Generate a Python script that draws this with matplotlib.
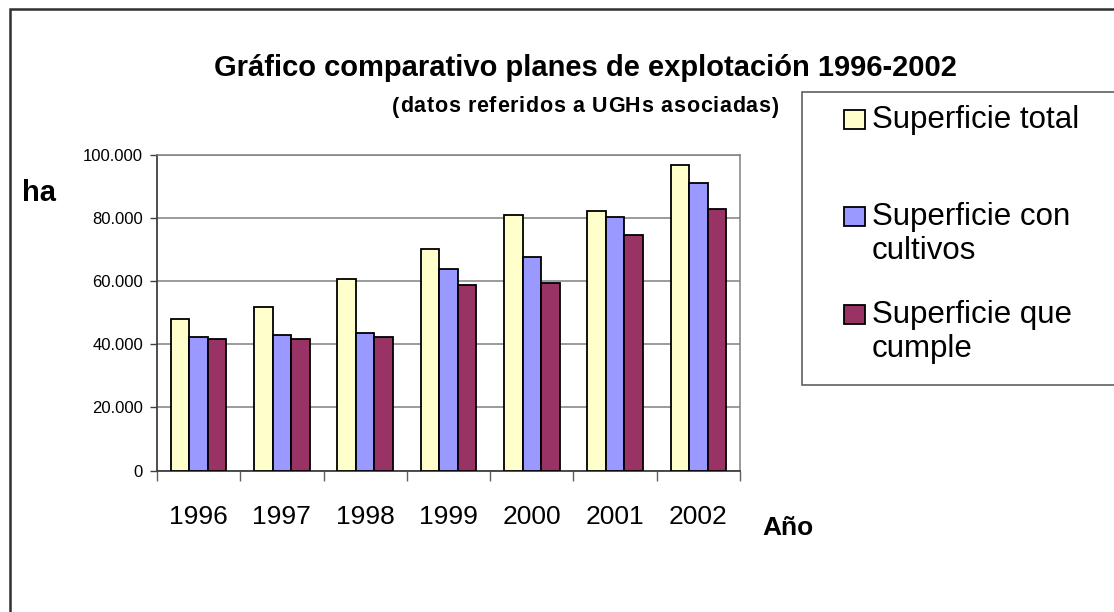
import matplotlib
matplotlib.use("Agg")
import matplotlib.pyplot as plt
from matplotlib.patches import Rectangle
from matplotlib.ticker import FuncFormatter, FixedLocator
import numpy as np

plt.rcParams['font.family'] = ['Liberation Sans', 'DejaVu Sans']

years = ["1996", "1997", "1998", "1999", "2000", "2001", "2002"]
series_names = ["Superficie total", "Superficie con\ncultivos", "Superficie que\ncumple"]
sup_total = [48000, 51900, 60800, 70300, 80900, 82200, 96700]
sup_cultivos = [42300, 42900, 43600, 63800, 67600, 80200, 91000]
sup_cumple = [41700, 41700, 42300, 58800, 59400, 74500, 82800]
colors = ["#FFFFCC", "#9999FF", "#993366"]
title = "Gráfico comparativo planes de explotación 1996-2002"
subtitle = "(datos referidos a UGHs asociadas)"
y_ticks = [0, 20000, 40000, 60000, 80000, 100000]

W, H = 1114, 612
fig = plt.figure(figsize=(W / 100, H / 100), dpi=100)
fig.patch.set_facecolor("white")

def fx(px):
    return px / W

def fy(py):
    return 1 - py / H

ax = fig.add_axes([fx(157), fy(470.7), fx(740) - fx(157), fy(154.7) - fy(470.7)])

x = np.arange(len(years))
bw = 1 / 4.5
data = [sup_total, sup_cultivos, sup_cumple]
for i, (vals, c) in enumerate(zip(data, colors)):
    ax.bar(x + (i - 1) * bw, vals, width=bw, color=c, edgecolor="black",
           linewidth=1.3, zorder=3)

ax.set_xlim(-0.5, len(years) - 0.5)
ax.set_ylim(0, 100000)
ax.yaxis.set_major_locator(FixedLocator(y_ticks))
ax.yaxis.set_major_formatter(FuncFormatter(lambda v, p: f"{int(v):,}".replace(",", ".")))
ax.grid(axis="y", color="#808080", linewidth=1.1, zorder=0)
ax.set_axisbelow(True)

ax.set_xticks(np.arange(-0.5, len(years), 1.0))
ax.set_xticklabels([])
ax.set_xticks(x, minor=True)
ax.set_xticklabels(years, minor=True, fontsize=19)
ax.tick_params(axis="x", which="minor", length=0, pad=25)
ax.tick_params(axis="x", which="major", length=7, width=1, color="#606060", direction="out")
ax.tick_params(axis="y", length=5, width=1, color="#404040", labelsize=12, pad=5)

for s in ["top", "right"]:
    ax.spines[s].set_color("#808080")
    ax.spines[s].set_linewidth(1.1)
for s in ["left", "bottom"]:
    ax.spines[s].set_color("#404040")
    ax.spines[s].set_linewidth(1.3)

# outer border
fig.add_artist(Rectangle((fx(10), -0.1), 1.2, fy(9) + 0.1, transform=fig.transFigure,
                         fill=False, edgecolor="#303030", linewidth=1.8))

# titles
fig.text(fx(585), fy(68), title, ha="center", va="center", fontsize=21, fontweight="bold")

# subtitle with slight letter spacing (character by character)
renderer = fig.canvas.get_renderer()
def text_w(s, **kw):
    t = fig.text(0, 0, s + "x", **kw)
    w1 = t.get_window_extent(renderer).width
    t.remove()
    t = fig.text(0, 0, "x", **kw)
    w2 = t.get_window_extent(renderer).width
    t.remove()
    return w1 - w2

sub_kw = dict(fontsize=15.5, fontweight="bold")
target_w = 386
base_w = text_w(subtitle, **sub_kw)
spacing = max(0.0, (target_w - base_w) / (len(subtitle) - 1))
x0 = 585 - target_w / 2
for i, ch in enumerate(subtitle):
    px = x0 + (text_w(subtitle[:i], **sub_kw) if i > 0 else 0) + spacing * i
    fig.text(fx(px), fy(107), ch, ha="left", va="center", **sub_kw)

fig.text(fx(22), fy(193), "ha", ha="left", va="center", fontsize=21, fontweight="bold")
fig.text(fx(762), fy(528), "Año", ha="left", va="center", fontsize=19, fontweight="bold")

# legend
fig.add_artist(Rectangle((fx(802), fy(385)), 1.0, fy(92) - fy(385), transform=fig.transFigure,
                         facecolor="white", edgecolor="#606060", linewidth=1.2, zorder=5))
legend_baseline = [128, 225, 323]
line_step = 34
for name, c, bl in zip(series_names, colors, legend_baseline):
    fig.add_artist(Rectangle((fx(843.5), fy(bl + 1)), fx(21), fy(0) - fy(19),
                             transform=fig.transFigure, facecolor=c, edgecolor="black",
                             linewidth=1.3, zorder=6))
    for k, line in enumerate(name.split("\n")):
        fig.text(fx(872), fy(bl + k * line_step), line, ha="left", va="baseline",
                 fontsize=22.5, zorder=7)

fig.savefig("out.png", dpi=100)
